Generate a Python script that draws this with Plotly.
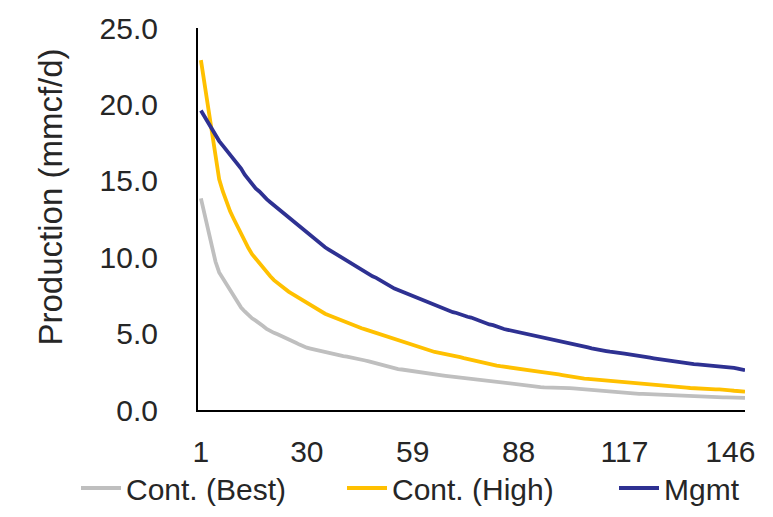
import plotly.graph_objects as go

months = list(range(1, 151))

mgmt = [19.6, 19.2, 18.8, 18.4, 17.9, 17.6, 17.3, 17.0, 16.7, 16.4,
        16.1, 15.8, 15.4, 15.1, 14.8, 14.5, 14.3, 14.0, 13.8, 13.6,
        13.4, 13.2, 13.0, 12.8, 12.6, 12.4, 12.2, 12.0, 11.8, 11.6,
        11.4, 11.2, 11.0, 10.8, 10.65, 10.5, 10.35, 10.2, 10.05, 9.9,
        9.75, 9.6, 9.45, 9.3, 9.15, 9.0, 8.9, 8.75, 8.65, 8.5,
        8.4, 8.25, 8.1, 7.95, 7.85, 7.75, 7.65, 7.55, 7.45, 7.35,
        7.25, 7.15, 7.05, 6.95, 6.85, 6.75, 6.65, 6.6, 6.5, 6.4,
        6.35, 6.25, 6.15, 6.1, 6.05, 5.95, 5.85, 5.75, 5.7, 5.6,
        5.55, 5.45, 5.4, 5.3, 5.25, 5.2, 5.15, 5.1, 5.0, 4.97,
        4.92, 4.87, 4.82, 4.76, 4.71, 4.67, 4.63, 4.59, 4.55, 4.49,
        4.44, 4.38, 4.32, 4.27, 4.22, 4.16, 4.1, 4.04, 3.98, 3.94,
        3.9, 3.86, 3.82, 3.77, 3.74, 3.72, 3.69, 3.66, 3.63, 3.6,
        3.57, 3.53, 3.48, 3.42, 3.38, 3.34, 3.3, 3.27, 3.23, 3.19,
        3.15, 3.11, 3.07, 3.04, 3.02, 3.0, 2.98, 2.96, 2.95, 2.93,
        2.91, 2.89, 2.87, 2.85, 2.83, 2.79, 2.75, 2.71, 2.66, 2.6]

cont_high = [22.9, 21.3, 19.9, 18.4, 16.8, 15.1, 14.3, 13.6, 13.0, 12.5,
             12.0, 11.5, 11.0, 10.6, 10.2, 9.9, 9.6, 9.3, 9.0, 8.75,
             8.5, 8.3, 8.1, 7.9, 7.75, 7.6, 7.45, 7.3, 7.15, 7.0,
             6.85, 6.7, 6.55, 6.4, 6.3, 6.2, 6.1, 6.0, 5.9, 5.8,
             5.7, 5.6, 5.5, 5.42, 5.35, 5.28, 5.2, 5.13, 5.06, 5.0,
             4.9, 4.8, 4.7, 4.62, 4.55, 4.48, 4.4, 4.32, 4.22, 4.14,
             4.07, 4.0, 3.93, 3.86, 3.8, 3.76, 3.72, 3.68, 3.63, 3.58,
             3.52, 3.46, 3.4, 3.34, 3.29, 3.24, 3.18, 3.12, 3.06, 3.01,
             2.96, 2.91, 2.87, 2.83, 2.79, 2.75, 2.72, 2.68, 2.64, 2.6,
             2.58, 2.55, 2.52, 2.49, 2.46, 2.44, 2.42, 2.39, 2.33, 2.29,
             2.25, 2.19, 2.13, 2.1, 2.08, 2.06, 2.04, 2.02, 2.0, 1.98,
             1.95, 1.92, 1.89, 1.86, 1.84, 1.82, 1.8, 1.78, 1.76, 1.74,
             1.74, 1.74, 1.72, 1.7, 1.68, 1.67, 1.65, 1.64, 1.61, 1.58,
             1.56, 1.53, 1.5, 1.47, 1.44, 1.42, 1.39, 1.37, 1.35, 1.35,
             1.35, 1.35, 1.35, 1.35, 1.33, 1.29, 1.26, 1.23, 1.21, 1.2]

cont_best = [13.85, 12.8, 11.6, 10.6, 9.7, 9.0, 8.6, 8.2, 7.8, 7.4,
             7.0, 6.7, 6.45, 6.2, 6.0, 5.85, 5.7, 5.5, 5.3, 5.15,
             5.05, 4.95, 4.85, 4.75, 4.65, 4.52, 4.4, 4.28, 4.17, 4.08,
             4.02, 3.96, 3.9, 3.84, 3.78, 3.72, 3.66, 3.61, 3.57, 3.53,
             3.49, 3.45, 3.41, 3.36, 3.3, 3.24, 3.18, 3.11, 3.05, 2.99,
             2.93, 2.86, 2.79, 2.72, 2.68, 2.65, 2.61, 2.57, 2.53, 2.49,
             2.46, 2.43, 2.39, 2.36, 2.33, 2.3, 2.27, 2.24, 2.21, 2.19,
             2.17, 2.15, 2.13, 2.08, 2.02, 1.98, 1.95, 1.92, 1.9, 1.87,
             1.84, 1.81, 1.78, 1.76, 1.73, 1.7, 1.66, 1.63, 1.6, 1.57,
             1.55, 1.53, 1.51, 1.5, 1.48, 1.48, 1.48, 1.48, 1.48, 1.47,
             1.45, 1.43, 1.41, 1.39, 1.36, 1.33, 1.31, 1.29, 1.26, 1.24,
             1.21, 1.19, 1.16, 1.14, 1.12, 1.1, 1.09, 1.07, 1.06, 1.06,
             1.06, 1.06, 1.05, 1.04, 1.03, 1.01, 0.99, 0.98, 0.97, 0.96,
             0.95, 0.95, 0.94, 0.92, 0.9, 0.88, 0.86, 0.84, 0.83, 0.83,
             0.83, 0.83, 0.83, 0.83, 0.83, 0.82, 0.82, 0.81, 0.8, 0.8]

x_tick_vals = [1, 30, 59, 88, 117, 146]
y_tick_vals = [0, 5, 10, 15, 20, 25]

series_names = ["Cont. (Best)", "Cont. (High)", "Mgmt"]
series_colors = ["#BFBFBF", "#FFC000", "#2E3192"]
series_values = [cont_best, cont_high, mgmt]

FONT = "Liberation Sans"
TXT = "#262626"

# page body has an 8px default margin; plot area targets 198..745 x 28..410 on screen
L, T, W, H = 190, 20, 547, 382
legend_ids = ["legend", "legend2", "legend3"]
legend_text_x = [124, 390, 662]  # on-screen x where each legend label starts

fig = go.Figure()
for name, color, vals, lid in zip(series_names, series_colors, series_values, legend_ids):
    fig.add_trace(go.Scatter(x=months, y=vals, mode="lines", name=name,
                             legend=lid, line=dict(color=color, width=3.8)))

legend_layout = {}
for lid, tx in zip(legend_ids, legend_text_x):
    legend_layout[lid] = dict(
        orientation="h", xref="container", yref="container",
        x=(tx - 8 - 48) / 773, xanchor="left",
        y=(517 - 488 + 8) / 517, yanchor="middle",
        font=dict(size=30, color=TXT), itemwidth=40,
        bgcolor="rgba(0,0,0,0)")

fig.update_layout(
    template="none",
    width=773, height=517,
    margin=dict(l=L, r=773 - L - W, t=T, b=517 - T - H, autoexpand=False),
    paper_bgcolor="white", plot_bgcolor="white",
    font=dict(family=FONT, size=30, color=TXT),
    showlegend=True,
    **legend_layout,
    xaxis=dict(range=[0.2, 150], tickvals=x_tick_vals,
               ticktext=[str(v) for v in x_tick_vals],
               showgrid=False, zeroline=False, showline=True,
               linecolor="black", linewidth=2, automargin=False,
               ticks="outside", ticklen=14, tickcolor="rgba(0,0,0,0)",
               tickfont=dict(size=30, color=TXT)),
    yaxis=dict(range=[0, 25], tickvals=y_tick_vals,
               ticktext=[f"{v:.1f}" for v in y_tick_vals],
               showgrid=False, zeroline=False, showline=True,
               linecolor="black", linewidth=2, automargin=False,
               ticks="outside", ticklen=32, tickcolor="rgba(0,0,0,0)",
               tickfont=dict(size=30, color=TXT)),
    annotations=[dict(text="Production (mmcf/d)", textangle=-90,
                      xref="paper", yref="paper", x=(42 - L) / W,
                      y=(T + H - 189.5) / H, xanchor="center", yanchor="middle",
                      showarrow=False, font=dict(size=33, color=TXT))],
)

fig.write_html("out.html")
